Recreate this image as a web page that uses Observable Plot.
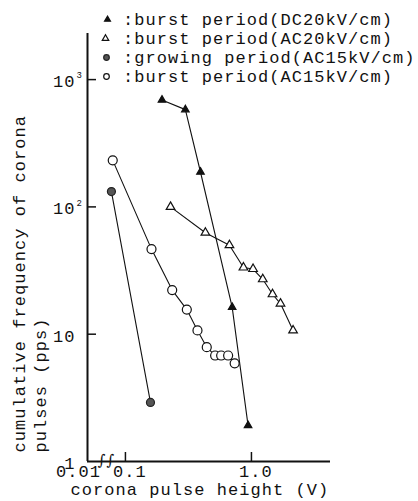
<!DOCTYPE html>
<html><head><meta charset="utf-8">
<script src="https://cdn.jsdelivr.net/npm/d3@7"></script>
<script src="https://cdn.jsdelivr.net/npm/@observablehq/plot@0.6"></script>
<style>html,body{margin:0;padding:0;background:#fff} svg{display:block}</style>
</head><body><div id="chart"></div>
<script>
// --- data ---
const dcX = [0.195, 0.299, 0.394, 0.703, 0.94];
const dcY = [692, 581, 188, 16.3, 1.92];
const ac20X = [0.228, 0.431, 0.669, 0.864, 1.03, 1.23, 1.47, 1.70, 2.14];
const ac20Y = [100, 62.7, 50, 33.4, 32.5, 27, 20.6, 17.4, 10.7];
const growX = [0.0774, 0.158];
const growY = [132, 2.91];
const ac15X = [0.0793, 0.161, 0.235, 0.307, 0.373, 0.442, 0.515, 0.575, 0.653, 0.736];
const ac15Y = [232, 46.6, 22.2, 15.6, 10.7, 7.91, 6.8, 6.8, 6.8, 5.9];

const legendLabels = [":burst period(DC20kV/cm)", ":burst period(AC20kV/cm)", ":growing period(AC15kV/cm)", ":burst period(AC15kV/cm)"];
const xTickValues = [0.1, 1.0];
const xTickLabels = ["0.1", "1.0"];
const xOriginLabel = "0.01";
const yTickValues = [1, 10, 100, 1000];
const yTickBase = ["1", "10", "10", "10"];
const yTickExp = ["", "", "2", "3"];
const xTitle = "corona pulse height (V)";
const yTitle = ["cumulative frequency of corona", "pulses (pps)"];

const xDomain = [0.05, 4.24];
const yDomain = [1, 2302];

// --- build tables ---
const zip = (xs, ys) => xs.map((x, i) => ({x, y: ys[i]}));
const dc = zip(dcX, dcY), ac20 = zip(ac20X, ac20Y), grow = zip(growX, growY), ac15 = zip(ac15X, ac15Y);
const yTickData = yTickValues.map((v, i) => ({v, base: yTickBase[i], exp: yTickExp[i]}));
const xTickData = xTickValues.map((v, i) => ({v, label: xTickLabels[i]}));

const FONT = "Liberation Mono, Courier New, monospace";
const FS = 17;
const T = {fontSize: FS, fill: "#111", lineAnchor: "middle"};

const styles = [
  {symbol: "triangle", fill: "#111", stroke: "#111", r: 2.8, lr: 2.2},
  {symbol: "triangle", fill: "white", stroke: "#111", r: 3.2, lr: 2.4},
  {symbol: "circle", fill: "#555", stroke: "#222", r: 4, lr: 2.8},
  {symbol: "circle", fill: "white", stroke: "#111", r: 4.5, lr: 2.8}
];
const legendDy = [-14, 5, 24, 43];
const legendSymDx = [20, 18, 19, 19];

const legendMarks = legendLabels.flatMap((lab, i) => [
  Plot.dot([0], {frameAnchor: "top-left", dx: legendSymDx[i], dy: legendDy[i], symbol: styles[i].symbol, r: styles[i].lr, fill: styles[i].fill, stroke: styles[i].stroke, strokeWidth: 1.2}),
  Plot.text([lab], {...T, text: d => d, frameAnchor: "top-left", dx: 35.5, dy: legendDy[i], textAnchor: "start"})
]);

const series = [dc, ac20, grow, ac15];

const chart = Plot.plot({
  width: 418, height: 501,
  marginLeft: 87, marginRight: 88, marginTop: 33, marginBottom: 40,
  style: {fontFamily: FONT, fontSize: FS + "px", letterSpacing: "1.05px", background: "white", color: "#111"},
  x: {type: "log", domain: xDomain, label: null},
  y: {type: "log", domain: yDomain, label: null},
  marks: [
    // axis lines
    Plot.ruleX([xDomain[0]], {y1: yDomain[0], y2: yDomain[1], stroke: "#111", strokeWidth: 2}),
    Plot.ruleY([yDomain[0]], {x1: xDomain[0], x2: xDomain[1], stroke: "#111", strokeWidth: 2}),
    // inward ticks
    Plot.axisY(yTickValues.slice(1), {anchor: "left", tickSize: 9, dx: 9, tickFormat: () => "", label: null, strokeWidth: 1.5, stroke: "#111"}),
    Plot.axisX(xTickValues, {anchor: "bottom", tickSize: 9, dy: -9, tickFormat: () => "", label: null, strokeWidth: 1.5, stroke: "#111"}),
    // tick labels
    Plot.text(yTickData, {...T, y: "v", text: "base", frameAnchor: "left", textAnchor: "end", dx: -12, dy: 2}),
    Plot.text(yTickData.filter(d => d.exp), {...T, y: "v", text: "exp", frameAnchor: "left", textAnchor: "start", dx: -11, dy: -4, fontSize: 9}),
    Plot.text(xTickData, {...T, x: "v", text: "label", frameAnchor: "bottom", textAnchor: "middle", dx: 4.5, dy: 10}),
    Plot.text([xOriginLabel], {...T, text: d => d, frameAnchor: "bottom-left", textAnchor: "middle", dx: -9, dy: 10}),
    // axis break
    Plot.text(["\u222B\u222B"], {text: d => d, frameAnchor: "bottom-left", textAnchor: "middle", lineAnchor: "middle", dx: 19, dy: -1, fontSize: 15, fontFamily: "DejaVu Serif", fill: "#111", letterSpacing: "-4px"}),
    // titles
    Plot.text([yTitle[0]], {...T, text: d => d, frameAnchor: "bottom-left", rotate: -90, textAnchor: "start", dx: 19 - 87, dy: -9}),
    Plot.text([yTitle[1]], {...T, text: d => d, frameAnchor: "bottom-left", rotate: -90, textAnchor: "start", dx: 40 - 87, dy: -9}),
    Plot.text([xTitle], {...T, text: d => d, frameAnchor: "bottom-left", textAnchor: "start", dx: 70 - 87, dy: 28}),
    // data lines
    ...series.map(s => Plot.line(s, {x: "x", y: "y", stroke: "#111", strokeWidth: 1.1})),
    // data markers
    ...series.map((s, i) => Plot.dot(s, {x: "x", y: "y", symbol: styles[i].symbol, r: styles[i].r, fill: styles[i].fill, stroke: styles[i].stroke, strokeWidth: 1.2})),
    // legend
    ...legendMarks
  ]
});
document.getElementById("chart").appendChild(chart);
</script>
</body></html>
